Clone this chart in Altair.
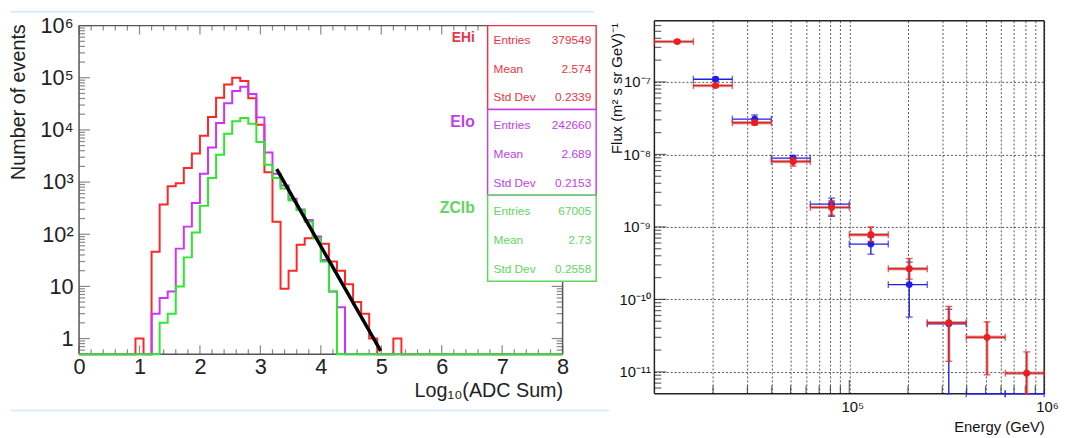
import altair as alt
import pandas as pd

FONT = "Liberation Sans"

# ======================= LEFT PANEL DATA (histograms) =======================
x_min, x_max = 0.0, 8.0          # Log10(ADC Sum) range, 60 bins
red_counts = [0, 0, 0, 0, 0, 0, 0, 1, 0, 46, 372, 830, 950, 1870, 3540, 7760,
              17700, 41500, 74600, 100000, 87000, 40500, 12600, 1540, 174, 9,
              20, 63, 84, 88, 66, 30, 20, 11, 5, 3, 1, 0, 0, 1] + [0] * 20
mag_counts = [0] * 9 + [3, 6, 8, 53, 140, 398, 1440, 4590, 13600, 32600, 56000,
                        67000, 49000, 17400, 3700, 1440, 860, 480, 298, 187, 91,
                        32, 8, 4] + [0] * 27
grn_counts = [0] * 10 + [2, 3, 10, 36, 108, 350, 1200, 3330, 8470, 14700, 16900,
                         13100, 5870, 2150, 1200, 750, 445, 290, 174, 84, 30, 8] + [0] * 28

fit_x = [3.27, 4.99]
fit_y = [1780, 0.58]

stat_names = ["EHi", "Elo", "ZClb"]
stat_entries = ["379549", "242660", "67005"]
stat_means = ["2.574", "2.689", "2.73"]
stat_stddev = ["0.2339", "0.2153", "0.2558"]

line_colors = ["#ff2626", "#cc33ff", "#2ee82e"]
text_colors = ["#ee3344", "#c040f0", "#5fd65f"]

# ======================= RIGHT PANEL DATA (flux) =======================
e_lo = [1.0e4, 1.585e4, 2.512e4, 3.981e4, 6.310e4, 1.0e5, 1.585e5, 2.512e5, 3.981e5, 6.310e5]
e_hi = [1.585e4, 2.512e4, 3.981e4, 6.310e4, 1.0e5, 1.585e5, 2.512e5, 3.981e5, 6.310e5, 1.0e6]
e_mid = [1.31e4, 2.06e4, 3.27e4, 5.15e4, 8.11e4, 1.29e5, 2.03e5, 3.24e5, 5.09e5, 8.13e5]

red_flux = [3.6e-7, 8.9e-8, 2.74e-8, 8.0e-9, 1.86e-9, 7.8e-10, 2.65e-10, 4.77e-11, 3.0e-11, 9.6e-12]
red_flux_lo = [3.45e-7, 8.5e-8, 2.55e-8, 6.9e-9, 1.45e-9, 6.3e-10, 1.9e-10, 1.4e-11, 9.1e-12, 5e-12]
red_flux_hi = [3.75e-7, 9.3e-8, 2.95e-8, 9.0e-9, 2.3e-9, 1.0e-9, 3.67e-10, 8.0e-11, 4.9e-11, 1.89e-11]

# blue exists from the 2nd bin; last two bins are empty (zero flux)
blue_flux = [1.09e-7, 3.07e-8, 8.9e-9, 2.06e-9, 5.8e-10, 1.6e-10, 4.6e-11, 0, 0]
blue_flux_lo = [1.03e-7, 2.7e-8, 7.8e-9, 1.4e-9, 4.2e-10, 5.7e-11, 5e-12, 0, 0]
blue_flux_hi = [1.15e-7, 3.5e-8, 9.7e-9, 2.5e-9, 7.2e-10, 3.27e-10, 7.3e-11, 0, 0]

RED = "#ee1c1c"
BLUE = "#1f1fe6"

# ======================= helpers =======================
one = pd.DataFrame({"a": [1]})


def hrule(x1, x2, y, color, w):
    return alt.Chart(one).mark_rule(color=color, strokeWidth=w).encode(
        x=alt.value(x1), x2=alt.value(x2), y=alt.value(y))


def vrule(x, y1, y2, color, w):
    return alt.Chart(one).mark_rule(color=color, strokeWidth=w).encode(
        x=alt.value(x), y=alt.value(y1), y2=alt.value(y2))


def label(x, y, txt, color, size, align="left", weight="normal"):
    return alt.Chart(one).mark_text(align=align, baseline="middle", font=FONT,
                                    fontSize=size, fontWeight=weight, color=color).encode(
        x=alt.value(x), y=alt.value(y), text=alt.value(txt))


def hist_frame(counts):
    bw = (x_max - x_min) / len(counts)
    edges = [x_min + i * bw for i in range(len(counts) + 1)]
    return pd.DataFrame({"edge": edges, "count": list(counts) + [counts[-1]]})


# ======================= LEFT PANEL =======================
LW, LH = 490, 378
L_TOP, L_BOT = 5, 338
AX_L = "#555555"
xs_L = alt.Scale(domain=[x_min, x_max], nice=False, zero=False)
ys_L = alt.Scale(type="log", domain=[0.5, 1e6], range=[L_BOT, L_TOP], nice=False)

ly_major = [10 ** k for k in range(0, 7)]
ly_minor = [m * 10 ** k for k in range(-1, 6) for m in range(2, 10) if 0.5 < m * 10 ** k < 1e6]
lx_major = list(range(0, 9))
lx_minor = [round(i * 0.2, 1) for i in range(0, 41) if i % 5 != 0]

ylabel_expr = ("datum.value == 1 ? '1' : datum.value == 10 ? '10' : datum.value == 100 ? '10²' : "
               "datum.value == 1000 ? '10³' : datum.value == 10000 ? '10⁴' : "
               "datum.value == 100000 ? '10⁵' : '10⁶'")

x_axis_L = alt.Axis(values=lx_major, format="d", offset=-(LH - L_BOT), domain=False, ticks=False,
                    tickSize=0, grid=False, labelFlush=False, labelFont=FONT, labelFontSize=22,
                    labelColor="#222", labelPadding=3, title="Log₁₀(ADC Sum)", titleFont=FONT,
                    titleFontSize=20, titleFontWeight="normal", titleColor="#222",
                    titleAnchor="end", titlePadding=3)
y_axis_L = alt.Axis(values=ly_major, labelExpr=ylabel_expr, domain=False, ticks=False, tickSize=0,
                    grid=False, labelFlush=False, labelFont=FONT, labelFontSize=22,
                    labelColor="#222", labelPadding=6,
                    title="Number of events", titleFont=FONT, titleFontSize=20,
                    titleFontWeight="normal", titleColor="#222", titleAngle=-90,
                    titleX=-55, titleY=82, titleAlign="center", titleBaseline="alphabetic")


def LX(field):
    return alt.X(field, scale=xs_L, axis=x_axis_L)


def LY(field):
    return alt.Y(field, scale=ys_L, axis=y_axis_L)


def lticks_y(vals, xc, length):
    return alt.Chart(pd.DataFrame({"v": vals})).mark_tick(
        orient="horizontal", size=length, thickness=1.2, color=AX_L).encode(
        y=LY("v:Q"), x=alt.value(xc))


def lticks_x(vals, yc, length):
    return alt.Chart(pd.DataFrame({"v": vals})).mark_tick(
        orient="vertical", size=length, thickness=1.2, color=AX_L).encode(
        x=LX("v:Q"), y=alt.value(yc))


layers_L = [
    hrule(-69, 522, -9, "#dcebfb", 2),
    hrule(-69, 537, 395, "#dcebfb", 2),
    hrule(0, LW, L_TOP, AX_L, 1.5),
    hrule(0, LW, L_BOT, AX_L, 1.5),
    vrule(0, L_TOP, L_BOT, AX_L, 1.5),
    vrule(LW, L_TOP, L_BOT, AX_L, 1.5),
    lticks_y(ly_major, 5.5, 11),
    lticks_y(ly_minor, 3, 6),
    lticks_y(ly_major, LW - 5.5, 11),
    lticks_y(ly_minor, LW - 3, 6),
    lticks_x(lx_major, L_BOT - 4.5, 9),
    lticks_x(lx_minor, L_BOT - 2.5, 5),
    lticks_x(lx_major, L_TOP + 4.5, 9),
    lticks_x(lx_minor, L_TOP + 2.5, 5),
]

for i, counts in enumerate([red_counts, mag_counts, grn_counts]):
    layers_L.append(
        alt.Chart(hist_frame(counts)).transform_calculate(yv="max(datum.count, 0.5)")
        .mark_line(interpolate="step-after", strokeWidth=2, color=line_colors[i], clip=True)
        .encode(x=LX("edge:Q"), y=LY("yv:Q"))
    )

layers_L.append(
    alt.Chart(pd.DataFrame({"x": fit_x, "y": fit_y})).mark_line(color="black", strokeWidth=3.5)
    .encode(x=LX("x:Q"), y=LY("y:Q"))
)

# stats boxes
box_x1, box_x2 = 414, 524
box_edges = [5, 90, 177, 264]
row_off = [14.7, 43.7, 72.7]
name_y = [18, 103, 190]
name_size = [14, 16, 16]
for i in range(3):
    c = text_colors[i]
    layers_L.append(
        alt.Chart(one).mark_rect(fill="white", stroke=c, strokeWidth=1.5).encode(
            x=alt.value(box_x1), x2=alt.value(box_x2),
            y=alt.value(box_edges[i]), y2=alt.value(box_edges[i + 1])))
    vals = [stat_entries[i], stat_means[i], stat_stddev[i]]
    for j, lab in enumerate(["Entries", "Mean", "Std Dev"]):
        yy = box_edges[i] + row_off[j] + (1.5 if i > 0 else 0)
        layers_L.append(label(box_x1 + 6, yy, lab, c, 12))
        layers_L.append(label(box_x2 - 5, yy, vals[j], c, 12, align="right"))
    layers_L.append(label(401, name_y[i], stat_names[i], c, name_size[i], align="right", weight="bold"))

left = alt.layer(*layers_L).properties(width=LW, height=LH)

# ======================= RIGHT PANEL =======================
RW, RH = 395, 378
AX_R = "#222222"
xs_R = alt.Scale(type="log", domain=[1e4, 1e6], nice=False)
ys_R = alt.Scale(type="log", domain=[5e-12, 7e-7], nice=False)

ry_major = [1e-11, 1e-10, 1e-9, 1e-8, 1e-7]
ry_minor = [m * 10.0 ** k for k in range(-12, -6) for m in range(2, 10) if 5e-12 < m * 10.0 ** k < 7e-7]
rx_major = [1e5]
rx_minor = [m * 10.0 ** k for k in (4, 5) for m in range(2, 10)]
rx_grid = [m * 10.0 ** k for k in (4, 5) for m in range(2, 11)]

exp_expr = "round(log(datum.value)/LN10)"
ry_label = (f"{exp_expr} == -7 ? '10⁻⁷' : {exp_expr} == -8 ? '10⁻⁸' : {exp_expr} == -9 ? '10⁻⁹' : "
            f"{exp_expr} == -10 ? '10⁻¹⁰' : '10⁻¹¹'")
rx_label = "datum.value == 100000 ? '10⁵' : datum.value == 1000000 ? '10⁶' : ''"

x_axis_R = alt.Axis(values=rx_grid, labelExpr=rx_label, labelOverlap=False, labelFlush=False,
                    labelOffset=3, domain=False, ticks=False, tickSize=0, grid=True,
                    gridDash=[2, 2], gridColor="#555555", gridWidth=1, labelFont=FONT,
                    labelFontSize=15, labelColor="#111", labelPadding=6, title="Energy (GeV)",
                    titleFont=FONT, titleFontSize=15, titleFontWeight="normal",
                    titleColor="#111", titleAnchor="end", titlePadding=5)
y_axis_R = alt.Axis(values=ry_major, labelExpr=ry_label, labelOverlap=False, labelFlush=False,
                    domain=False, ticks=False, tickSize=0, grid=True, gridDash=[2, 2],
                    gridColor="#555555", gridWidth=1, labelFont=FONT, labelFontSize=15,
                    labelColor="#111", labelPadding=4, title="Flux (m² s sr GeV)⁻¹",
                    titleFont=FONT, titleFontSize=15, titleFontWeight="normal",
                    titleColor="#111", titleAngle=-90, titleAlign="right",
                    titleBaseline="middle", titleX=-38, titleY=2)


def RX(field):
    return alt.X(field, scale=xs_R, axis=x_axis_R)


def RY(field):
    return alt.Y(field, scale=ys_R, axis=y_axis_R)


def rticks_y(vals, xc, length):
    return alt.Chart(pd.DataFrame({"v": vals})).mark_tick(
        orient="horizontal", size=length, thickness=1.2, color=AX_R).encode(
        y=RY("v:Q"), x=alt.value(xc))


def rticks_x(vals, yc, length):
    return alt.Chart(pd.DataFrame({"v": vals})).mark_tick(
        orient="vertical", size=length, thickness=1.2, color=AX_R).encode(
        x=RX("v:Q"), y=alt.value(yc))


red_df = pd.DataFrame({"E": e_mid, "lo": e_lo, "hi": e_hi, "f": red_flux,
                       "flo": red_flux_lo, "fhi": red_flux_hi})
blue_df = pd.DataFrame({"E": e_mid[1:], "lo": e_lo[1:], "hi": e_hi[1:], "f": blue_flux,
                        "flo": blue_flux_lo, "fhi": blue_flux_hi})


def series_layers(df, color, under=None):
    base = alt.Chart(df).transform_calculate(fy="max(datum.f, 5e-12)")
    pos = base.transform_filter("datum.f > 0")
    out = []
    if under is not None:
        out.append(base.mark_rule(color=under, strokeWidth=3.5, opacity=0.55).encode(
            x=RX("lo:Q"), x2="hi:Q", y=RY("fy:Q")))
        out.append(pos.mark_rule(color=under, strokeWidth=3.5, opacity=0.45).encode(
            x=RX("E:Q"), y=RY("flo:Q"), y2="fhi:Q"))
    out.append(base.mark_rule(color=color, strokeWidth=1.4).encode(
        x=RX("lo:Q"), x2="hi:Q", y=RY("fy:Q")))
    out.append(pos.mark_rule(color=color, strokeWidth=1.4).encode(
        x=RX("E:Q"), y=RY("flo:Q"), y2="fhi:Q"))
    out.append(base.transform_fold(["lo", "hi"], as_=["k", "xe"]).mark_tick(
        orient="vertical", size=7, thickness=1.4, color=color).encode(
        x=RX("xe:Q"), y=RY("fy:Q")))
    out.append(pos.transform_fold(["flo", "fhi"], as_=["k", "ye"]).mark_tick(
        orient="horizontal", size=7, thickness=1.4, color=color).encode(
        x=RX("E:Q"), y=RY("ye:Q")))
    out.append(pos.mark_circle(size=48, opacity=1, color=color).encode(
        x=RX("E:Q"), y=RY("f:Q")))
    return out


layers_R = [
    hrule(0, RW, 0, AX_R, 1.5),
    hrule(0, RW, RH, AX_R, 1.5),
    vrule(0, 0, RH, AX_R, 1.5),
    vrule(RW, 0, RH, AX_R, 1.5),
    rticks_y(ry_major, 6, 12),
    rticks_y(ry_minor, 3.5, 7),
    rticks_x(rx_major, RH - 7, 14),
    rticks_x(rx_minor, RH - 4, 8),
]
layers_R += series_layers(blue_df, BLUE)
layers_R += series_layers(red_df, RED, under="#a86a6a")

right = alt.layer(*layers_R).properties(width=RW, height=RH)

chart = (alt.hconcat(left, right, spacing=93, bounds="flush")
         .properties(padding={"left": 0, "top": 0, "right": 0, "bottom": 0})
         .configure(font=FONT, background="white")
         .configure_view(stroke=None))

chart.save("out.html", embed_options={"renderer": "svg", "actions": False})
